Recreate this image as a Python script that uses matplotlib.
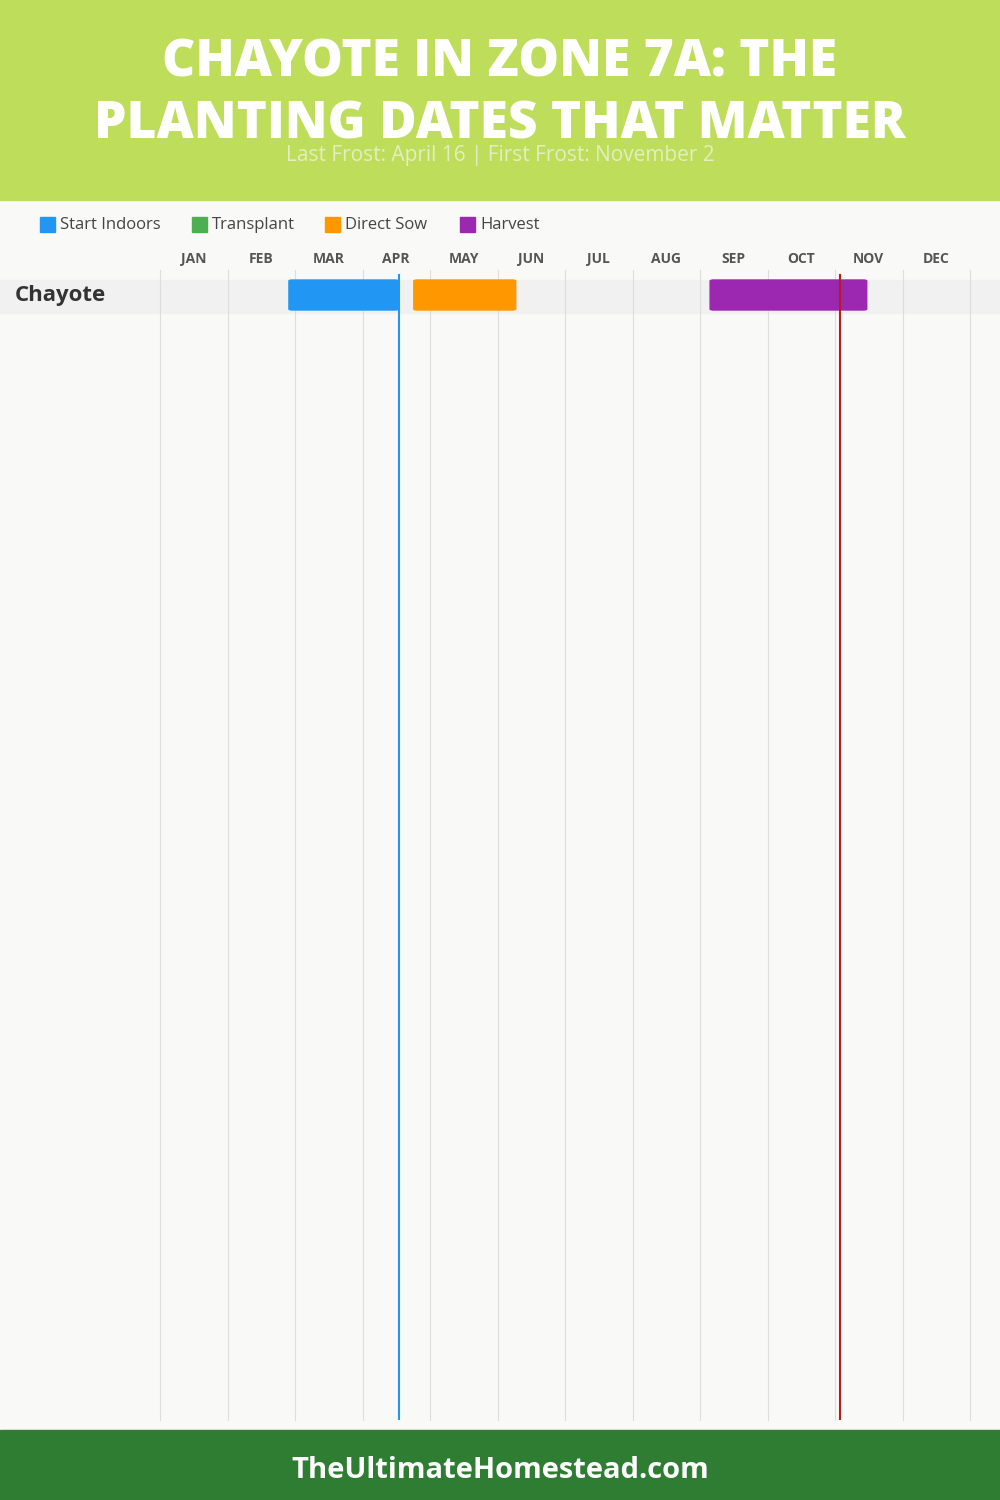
import matplotlib
matplotlib.use("Agg")
import matplotlib.pyplot as plt
from matplotlib.patches import FancyBboxPatch, Rectangle

months = ["JAN","FEB","MAR","APR","MAY","JUN","JUL","AUG","SEP","OCT","NOV","DEC"]
crop = "Chayote"
phases = ["Start Indoors", "Transplant", "Direct Sow", "Harvest"]
colors = ["#2196F3", "#4CAF50", "#FF9800", "#9C27B0"]
# (start, end) in month units (0 = Jan 1)
starts = [1.91, None, 3.76, 8.15]
ends = [3.53, None, 5.27, 10.47]
last_frost = 3.54
first_frost = 10.07

W, H = 1000, 1500
fig = plt.figure(figsize=(W/100, H/100), dpi=100)
fig.patch.set_facecolor("#F9F9F8")
font = "Open Sans"

def px(x0, y0, w, h):
    return [x0/W, 1-(y0+h)/H, w/W, h/H]

bg = fig.add_axes([0, 0, 1, 1]); bg.set_xlim(0, W); bg.set_ylim(H, 0); bg.axis("off")
bg.add_patch(Rectangle((0, 0), W, 200, color="#BEDD5A"))
bg.add_patch(Rectangle((0, 1430), W, 70, color="#2E7D32"))
bg.add_patch(Rectangle((0, 280), W, 33, color="#F0F0F0", alpha=0.8))
bg.text(500, 63, "CHAYOTE IN ZONE 7A: THE", ha="center", va="center", color="white",
        fontsize=37, fontweight="heavy", family=font)
bg.text(500, 125, "PLANTING DATES THAT MATTER", ha="center", va="center", color="white",
        fontsize=37, fontweight="heavy", family=font)
bg.text(500, 155, "Last Frost: April 16 | First Frost: November 2", ha="center", va="center",
        color="#E4EEC0", fontsize=15, family=font)
bg.text(500, 1471, "TheUltimateHomestead.com", ha="center", va="center", color="white",
        fontsize=21, fontweight="bold", family=font)
bg.text(15, 296, crop, ha="left", va="center", color="#333333", fontsize=16,
        fontweight="bold", family=font)
lx = [40, 192, 325, 460]
for x, p, c in zip(lx, phases, colors):
    bg.add_patch(Rectangle((x, 217), 15, 15, color=c))
    bg.text(x+20, 225, p, ha="left", va="center", color="#444444", fontsize=12, family=font)

ax = fig.add_axes(px(160, 270, 810, 1150))
ax.set_xlim(0, 12); ax.set_ylim(1150, 0); ax.axis("off")
for i in range(13):
    ax.axvline(i, color="#DDDDDD", lw=0.8, zorder=0, clip_on=False)
for i, m in enumerate(months):
    bg.text(160 + (i+0.5)*67.5, 259, m, ha="center", va="center", color="#555555",
            fontsize=10, fontweight="bold", family=font)
for s, e, c in zip(starts, ends, colors):
    if s is None:
        continue
    ax.add_patch(FancyBboxPatch((s, 10), e-s, 30, boxstyle="round,pad=0,rounding_size=0.05",
                                mutation_aspect=20, color=c, zorder=2))
ax.axvline(last_frost, ymin=0, ymax=1-5/1150, color="#2196F3", lw=1.5, zorder=3)
ax.axvline(first_frost, ymin=0, ymax=1-5/1150, color="#B71C1C", lw=1.5, zorder=3)
fig.savefig("out.png", dpi=100, facecolor=fig.get_facecolor())
